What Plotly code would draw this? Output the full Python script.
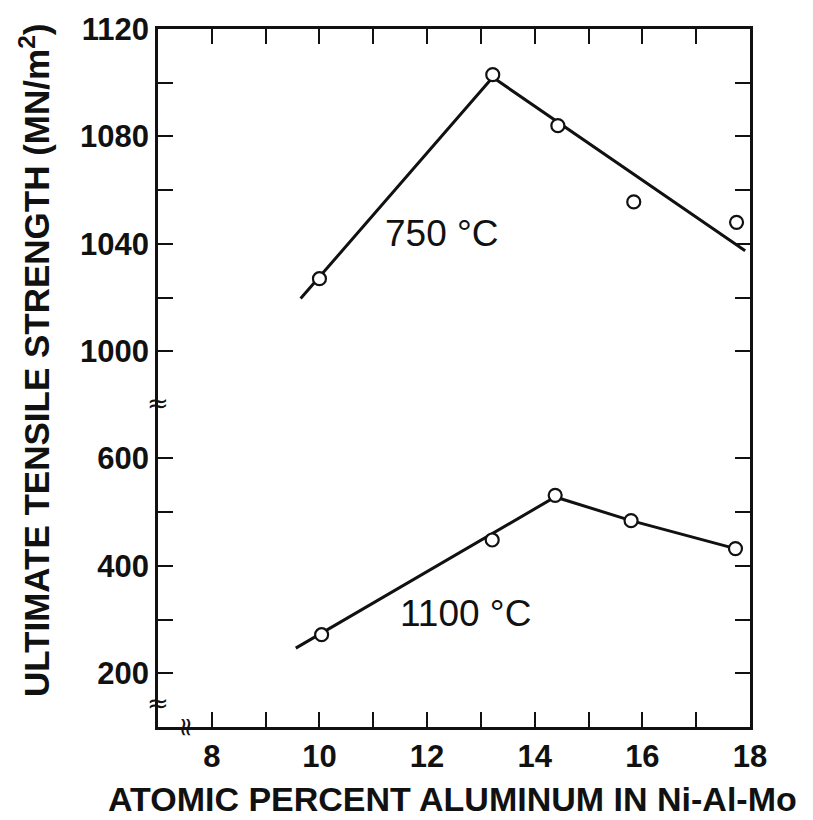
import plotly.graph_objects as go

# Measured points: ultimate tensile strength vs. atomic percent Al
al_750 = [10.0, 13.22, 14.43, 15.84, 17.75]
uts_750 = [1027, 1103, 1084, 1055.6, 1048]
al_1100 = [10.04, 13.21, 14.38, 15.79, 17.73]
uts_1100 = [272, 448, 531, 484, 432]

# Hand-drawn trend lines through the data
fit_750_x = [9.65, 13.22, 17.91]
fit_750_y = [1019.6, 1102, 1037.4]
fit_1100_x = [9.56, 14.38, 15.79, 17.73]
fit_1100_y = [247, 528, 484, 432]

x_ticks = list(range(8, 19))
x_ticktext = [str(v) if v % 2 == 0 else "" for v in x_ticks]
upper_ticks = list(range(1000, 1121, 20))
upper_ticktext = [str(v) if v % 40 == 0 else "" for v in upper_ticks]
lower_ticks = list(range(200, 601, 100))
lower_ticktext = [str(v) if v % 200 == 0 else "" for v in lower_ticks]

INK = "#111111"
BOLD = "Liberation Sans, Arial, sans-serif"
TICK_FONT = dict(family=BOLD, size=31, color=INK, weight="bold")
LABEL_FONT = dict(family="Liberation Sans, Arial, sans-serif", size=37, color=INK)
BREAK_FONT = dict(family="DejaVu Sans", size=26, color=INK)

split = 0.4645

fig = go.Figure()

line_style = dict(color=INK, width=3)
marker_style = dict(symbol="circle", size=13, color="white", line=dict(color=INK, width=2.2))

fig.add_trace(go.Scatter(x=fit_750_x, y=fit_750_y, mode="lines", line=line_style,
                         xaxis="x2", yaxis="y2", showlegend=False, hoverinfo="skip"))
fig.add_trace(go.Scatter(x=al_750, y=uts_750, mode="markers", marker=marker_style,
                         xaxis="x2", yaxis="y2", showlegend=False))
fig.add_trace(go.Scatter(x=fit_1100_x, y=fit_1100_y, mode="lines", line=line_style,
                         xaxis="x", yaxis="y", showlegend=False, hoverinfo="skip"))
fig.add_trace(go.Scatter(x=al_1100, y=uts_1100, mode="markers", marker=marker_style,
                         xaxis="x", yaxis="y", showlegend=False))

axis_common = dict(showline=True, linecolor=INK, linewidth=2.5, ticks="inside",
                   ticklen=15, tickwidth=2, tickcolor=INK, showgrid=False, zeroline=False)

fig.update_layout(
    width=813, height=820,
    margin=dict(l=158, r=63, t=23, b=93),
    paper_bgcolor="white", plot_bgcolor="white",
    xaxis=dict(domain=[0, 1], anchor="y", range=[7, 18], tickvals=x_ticks, ticktext=x_ticktext,
               tickfont=TICK_FONT, **axis_common),
    xaxis2=dict(domain=[0, 1], anchor="y2", range=[7, 18], matches="x", side="top",
                tickvals=x_ticks, showticklabels=False, **axis_common),
    yaxis=dict(domain=[0, split], anchor="x", range=[100.5, 703], tickvals=lower_ticks,
               ticktext=lower_ticktext, tickfont=TICK_FONT, mirror="ticks", **axis_common),
    yaxis2=dict(domain=[split, 1], anchor="x2", range=[980.8, 1120], tickvals=upper_ticks,
                ticktext=upper_ticktext, tickfont=TICK_FONT, mirror="ticks", **axis_common),
)

annotations = [
    dict(text="750 °C", x=12.27, y=1044, xref="x2", yref="y2", showarrow=False, font=LABEL_FONT),
    dict(text="1100 °C", x=12.72, y=312, xref="x", yref="y", showarrow=False, font=LABEL_FONT),
    dict(text="ULTIMATE TENSILE STRENGTH (MN/m<sup>2</sup>)", x=-0.208, y=0.5256,
         xref="paper", yref="paper", textangle=-90, showarrow=False,
         xanchor="center", yanchor="middle",
         font=dict(family=BOLD, size=35, color=INK, weight="bold")),
    dict(text="ATOMIC PERCENT ALUMINUM IN Ni-Al-Mo", x=0.497, y=-0.1037,
         xref="paper", yref="paper", showarrow=False, xanchor="center", yanchor="middle",
         font=dict(family=BOLD, size=34, color=INK, weight="bold")),
    # axis break marks
    dict(text="≈", x=0, y=split, xref="paper", yref="paper", showarrow=False,
         xanchor="center", yanchor="middle", font=BREAK_FONT),
    dict(text="≈", x=0, y=0.034, xref="paper", yref="paper", showarrow=False,
         xanchor="center", yanchor="middle", font=BREAK_FONT),
    dict(text="≈", x=0.0456, y=0, xref="paper", yref="paper", showarrow=False, textangle=-90,
         xanchor="center", yanchor="middle", font=BREAK_FONT),
]
fig.update_layout(annotations=annotations)

fig.write_html("out.html")
